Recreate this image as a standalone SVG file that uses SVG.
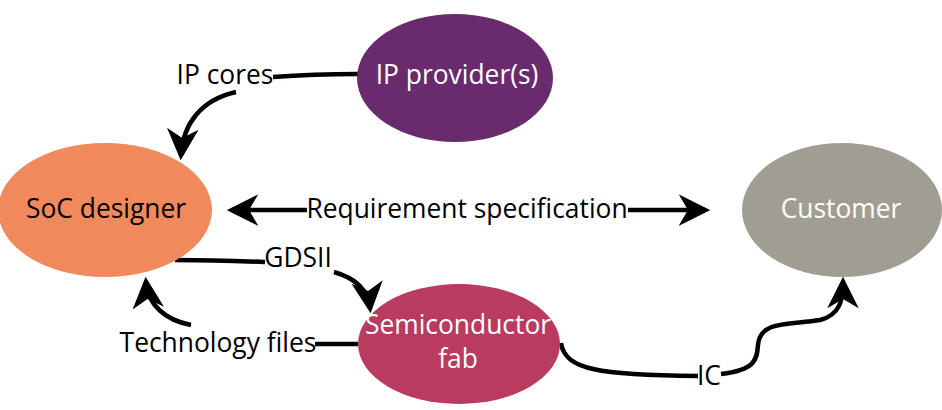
<svg xmlns="http://www.w3.org/2000/svg" width="942" height="410" viewBox="0 0 942 410">
<defs>
<style>
.lbl{font-family:"Open Sans","DejaVu Sans",sans-serif;font-size:26.4px;fill:#000;text-anchor:middle}
.ntx{font-family:"Open Sans","DejaVu Sans",sans-serif;font-size:26.4px;text-anchor:middle}
.c{fill:none;stroke:#000;stroke-width:4.5;stroke-linecap:butt}
</style>
<marker id="ah" viewBox="0 0 12 12" refX="10" refY="6" markerWidth="7" markerHeight="7" markerUnits="strokeWidth" orient="auto-start-reverse">
<path d="M0,0 L12,6 L0,12 L3.5,6 z" fill="#000"/>
</marker>
</defs>
<rect width="942" height="410" fill="#fff"/>
<g id="connectors">
<path class="c" d="M358,74 C330,74 300,75 273,77"/>
<path class="c" d="M236,92 C200,100 183,125 181,155" marker-end="url(#ah)"/>
<path class="c" d="M307,210 L232,210" marker-end="url(#ah)"/>
<path class="c" d="M628,210 L705,210" marker-end="url(#ah)"/>
<path class="c" d="M175,260 C210,260 240,261 265,262"/>
<path class="c" d="M334,272 C355,278 368,290 370,308" marker-end="url(#ah)"/>
<path class="c" d="M358,344 L315,344"/>
<path class="c" d="M191,325 C165,320 148,305 146,282" marker-end="url(#ah)"/>
<path class="c" d="M561,343 C565,370 600,375 698,376"/>
<path class="c" d="M721,374 C755,370 757,360 758,345 C760,320 790,325 820,320 C840,315 843,300 843,282" marker-end="url(#ah)"/>
</g>
<g id="ip-provider">
<ellipse cx="455" cy="78" rx="98" ry="64" fill="#692b6e"/>
<text class="ntx" x="457" y="84" fill="#fff">IP provider(s)</text>
</g>
<g id="soc-designer">
<ellipse cx="105" cy="210" rx="107" ry="67" fill="#f08a5d"/>
<text class="ntx" x="106" y="218" fill="#000">SoC designer</text>
</g>
<g id="customer">
<ellipse cx="842" cy="210" rx="100" ry="67" fill="#a09e93"/>
<text class="ntx" x="841" y="218" fill="#fff">Customer</text>
</g>
<g id="semiconductor-fab">
<ellipse cx="459" cy="344" rx="101" ry="60" fill="#b93b5f"/>
<text class="ntx" x="458" y="334" fill="#fff">Semiconductor</text>
<text class="ntx" x="458" y="368" fill="#fff">fab</text>
</g>
<g id="labels">
<text class="lbl" x="225" y="84">IP cores</text>
<text class="lbl" x="467" y="218">Requirement specification</text>
<text class="lbl" x="298" y="267">GDSII</text>
<text class="lbl" x="218" y="352">Technology files</text>
<text class="lbl" x="709" y="385">IC</text>
</g>
</svg>
